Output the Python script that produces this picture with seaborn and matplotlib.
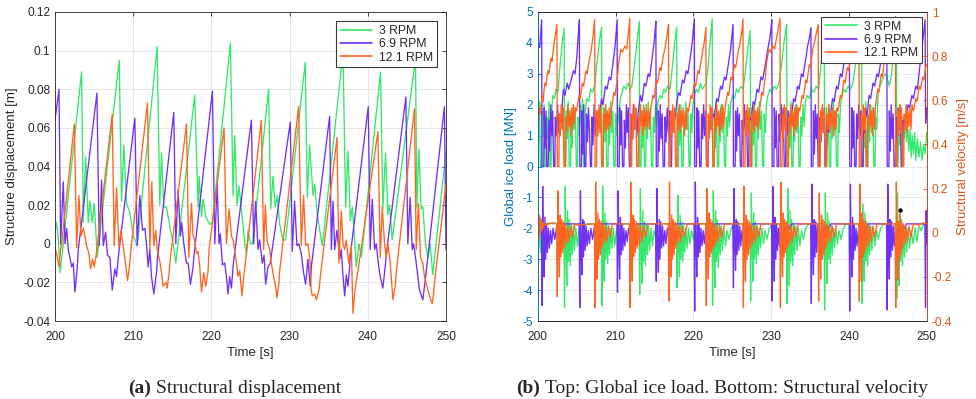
import matplotlib
matplotlib.use("Agg")
import matplotlib.pyplot as plt
from matplotlib.ticker import FuncFormatter, FixedLocator
import numpy as np
import pandas as pd
import seaborn as sns

# ---------------------------------------------------------------- data
SERIES = ["3 RPM", "6.9 RPM", "12.1 RPM"]
PALETTE = {"3 RPM": "#33e86a", "6.9 RPM": "#7030f5", "12.1 RPM": "#ff6420"}

X_TICKS = [200, 210, 220, 230, 240, 250]
DISP_TICKS = [-0.04, -0.02, 0, 0.02, 0.04, 0.06, 0.08, 0.1, 0.12]
LOAD_TICKS = [-5, -4, -3, -2, -1, 0, 1, 2, 3, 4, 5]
VEL_TICKS = [-0.4, -0.2, 0, 0.2, 0.4, 0.6, 0.8, 1]

# structure displacement [m] : (time [s], value)
DISP_3 = [
    (200.0, 0.006), (200.2, 0.011), (200.4, 0.004), (200.65, -0.015),
    (203.40, 0.089), (203.62, 0.011), (203.91, 0.045), (204.26, 0.011), (204.47, 0.022), (204.77, 0.011), (205.02, 0.021), (205.40, -0.007),
    (208.21, 0.095), (208.51, 0.022), (208.81, 0.051), (209.15, 0.021), (209.57, 0.016), (210.0, 0.004), (210.51, -0.001),
    (213.06, 0.102), (213.40, 0.020), (213.62, 0.047), (213.91, 0.019), (214.26, 0.019), (214.68, 0.009), (215.11, 0.000), (215.45, -0.010),
    (217.87, 0.077), (218.30, 0.019), (218.43, 0.035), (218.73, 0.014), (218.94, 0.023), (219.28, 0.014), (219.79, 0.010), (220.13, 0.011),
    (222.43, 0.104), (222.77, 0.025), (222.98, 0.056), (223.28, 0.020), (223.53, 0.030), (223.83, 0.018), (224.26, 0.000), (224.47, -0.005), (224.68, 0.007), (224.98, 0.000), (225.24, 0.000),
    (227.32, 0.080), (227.58, 0.018), (227.87, 0.035), (228.17, 0.019), (228.43, 0.025), (228.73, 0.010), (229.15, 0.002), (229.49, 0.002),
    (232.0, 0.094), (232.26, 0.024), (232.56, 0.051), (233.0, 0.025), (233.21, 0.031), (233.51, 0.016), (233.85, 0.007), (234.19, -0.001),
    (236.83, 0.099), (237.17, 0.019), (237.46, 0.048), (237.76, 0.012), (238.02, 0.019), (238.31, 0.002), (238.53, -0.012), (238.87, 0.000), (239.17, -0.007), (239.29, -0.003),
    (241.63, 0.089), (241.93, 0.018), (242.27, 0.047), (242.57, 0.015), (242.78, 0.020), (243.12, 0.002),
    (246.10, 0.096), (246.27, 0.019), (246.53, 0.049), (246.83, 0.018), (247.04, 0.019), (247.38, 0.000), (247.68, -0.007), (247.97, 0.000), (248.31, -0.016), (248.66, -0.003),
    (250.0, 0.048),
]
DISP_69 = [
    (200.0, 0.064), (200.51, 0.080), (200.72, 0.000), (201.06, 0.032), (201.28, 0.000), (201.49, 0.008), (201.70, -0.003), (201.91, -0.007), (202.13, -0.012), (202.34, -0.010), (202.55, -0.025), (202.85, -0.012), (202.98, -0.003),
    (205.36, 0.078), (205.66, -0.001), (205.96, 0.033), (206.17, -0.001), (206.47, 0.006), (206.72, -0.006), (207.02, -0.007), (207.32, -0.024), (207.66, -0.013), (207.87, -0.017), (208.09, -0.007), (208.21, -0.003),
    (210.21, 0.065), (210.51, -0.001), (210.85, 0.025), (211.19, 0.007), (211.49, 0.008), (211.70, 0.000), (211.91, -0.012), (212.13, -0.003), (212.34, -0.017), (212.64, -0.026), (212.98, -0.015), (213.11, -0.007),
    (215.19, 0.068), (215.45, 0.000), (215.74, 0.028), (216.04, 0.004), (216.2, 0.011), (216.47, 0.000), (216.81, -0.010), (217.02, -0.010), (217.32, -0.021), (217.66, -0.012), (217.75, -0.007),
    (220.13, 0.079), (220.43, 0.000), (220.73, 0.031), (220.98, 0.000), (221.15, 0.005), (221.41, -0.011), (221.70, -0.010), (221.92, -0.017), (222.13, -0.026), (222.34, -0.017), (222.56, -0.023), (222.77, -0.012), (222.90, -0.007),
    (225.11, 0.064), (225.41, 0.000), (225.66, 0.022), (225.96, -0.003), (226.17, 0.002), (226.51, -0.010), (226.73, -0.006), (226.94, -0.021), (227.24, -0.012), (227.53, -0.010),
    (230.09, 0.063), (230.34, -0.004), (230.64, 0.022), (230.94, -0.001), (231.19, 0.000), (231.49, -0.005), (231.79, -0.015), (232.05, -0.021), (232.34, -0.008), (232.64, -0.022), (232.78, -0.012),
    (235.12, 0.066), (235.34, -0.003), (235.55, 0.022), (235.76, -0.003), (236.06, 0.007), (236.40, -0.008), (236.61, -0.003), (236.83, -0.017), (237.04, -0.027), (237.25, -0.016), (237.46, -0.022), (237.68, -0.012), (237.76, -0.006),
    (240.06, 0.071), (240.31, -0.003), (240.57, 0.023), (240.87, -0.003), (241.08, 0.000), (241.34, -0.010), (241.59, -0.017), (241.93, -0.023), (242.27, -0.010), (242.44, -0.003),
    (244.87, 0.076), (245.12, 0.000), (245.42, 0.024), (245.68, -0.003), (245.85, 0.000), (246.10, -0.007), (246.40, -0.017), (246.61, -0.024), (247.04, -0.029), (247.25, -0.022), (247.46, -0.015),
    (249.80, 0.071), (250.0, -0.003),
]
DISP_121 = [
    (200.0, -0.002), (200.30, -0.007), (200.51, -0.012), (200.72, -0.003), (200.85, 0.000),
    (202.47, 0.062), (202.77, -0.002), (203.06, 0.025), (203.32, 0.004), (203.62, 0.008), (203.83, 0.004), (204.04, -0.001), (204.34, -0.005), (204.55, -0.013), (204.81, -0.008), (205.02, -0.012), (205.23, -0.007),
    (207.32, 0.067), (207.57, -0.001), (207.87, 0.029), (208.17, -0.002), (208.43, 0.007), (208.72, -0.001), (208.94, -0.008), (209.28, -0.019), (209.57, -0.010), (209.70, -0.003),
    (211.83, 0.073), (212.13, -0.003), (212.38, 0.032), (212.64, -0.001), (212.89, 0.007), (213.06, -0.003), (213.40, -0.009), (213.62, -0.015), (213.83, -0.022), (214.17, -0.020), (214.34, -0.023), (214.60, -0.015), (214.77, -0.007),
    (216.81, 0.062), (217.11, -0.007), (217.45, 0.021), (217.66, 0.004), (217.87, 0.002), (218.09, -0.005), (218.30, -0.004), (218.51, -0.012), (218.73, -0.025), (219.02, -0.015), (219.28, -0.022), (219.58, -0.014), (219.70, -0.003),
    (221.62, 0.060), (221.92, 0.000), (222.26, 0.018), (222.56, 0.004), (222.77, 0.002), (223.11, -0.007), (223.41, -0.017), (223.62, -0.014), (223.92, -0.027), (224.13, -0.017), (224.34, -0.010),
    (226.39, 0.064), (226.68, -0.003), (226.90, 0.020), (227.11, 0.002), (227.45, -0.003), (227.66, -0.010), (227.96, -0.017), (228.21, -0.022), (228.39, -0.028), (228.64, -0.020), (228.73, -0.014),
    (231.15, 0.071), (231.49, -0.001), (231.79, 0.025), (232.05, -0.001), (232.34, 0.000), (232.64, -0.010), (232.75, -0.024), (232.91, -0.027), (233.21, -0.026), (233.42, -0.029), (233.76, -0.024), (233.93, -0.017),
    (236.06, 0.055), (236.31, -0.010), (236.61, 0.017), (236.83, 0.000), (237.04, -0.003), (237.25, 0.002), (237.55, -0.010), (237.89, -0.001), (238.10, -0.036), (238.31, -0.026), (238.61, -0.017), (238.74, -0.014),
    (241.29, 0.058), (241.59, -0.007), (241.85, 0.019), (242.14, 0.000), (242.36, -0.007), (242.57, 0.000), (242.87, -0.010), (243.21, -0.029), (243.51, -0.022), (243.63, -0.015),
    (245.97, 0.070), (246.19, -0.003), (246.48, 0.021), (246.74, -0.007), (247.04, -0.010), (247.25, -0.017), (247.55, -0.022), (247.89, -0.027), (248.23, -0.031), (248.40, -0.026), (248.53, -0.020),
    (250.0, 0.031),
]

# global ice load [MN] : (time [s], value)
LOAD_3 = [
    (200.0, 1.9), (200.1, 0.7), (200.22, 2.1), (200.34, 0.0), (200.5, 0.0), (200.57, 1.8), (200.7, 1.0), (200.83, 2.0), (200.95, 0.0), (201.1, 0.0), (201.17, 1.6), (201.3, 0.9), (201.45, 2.1), (201.58, 0.0), (201.72, 0.0), (201.8, 1.8), (201.95, 2.3), (202.15, 2.2), (202.35, 2.5), (202.6, 2.4), (202.85, 3.2), (203.15, 4.0), (203.40, 4.47),
    (203.45, 0.0), (203.62, 0.0), (203.68, 1.8), (203.8, 0.9), (203.93, 2.1), (204.05, 0.0), (204.22, 0.0), (204.29, 1.7), (204.42, 0.6), (204.56, 2.0), (204.7, 1.2), (204.84, 1.9), (204.97, 0.0), (205.12, 0.0), (205.19, 1.6), (205.33, 1.0), (205.47, 2.0), (205.6, 1.3), (205.75, 2.2), (205.9, 0.0), (206.05, 0.0), (206.12, 1.8), (206.3, 2.2), (206.55, 2.1), (206.8, 2.5), (207.05, 2.4), (207.3, 2.6), (207.6, 3.3), (207.9, 4.0), (208.21, 4.5),
    (208.26, 0.0), (208.43, 0.0), (208.49, 1.9), (208.62, 0.8), (208.75, 2.0), (208.87, 0.0), (209.04, 0.0), (209.11, 1.6), (209.24, 0.7), (209.38, 2.1), (209.52, 1.1), (209.66, 1.8), (209.79, 0.0), (209.95, 0.0), (210.02, 1.7), (210.16, 1.0), (210.3, 2.0), (210.45, 1.4), (210.6, 2.2), (210.85, 2.4), (211.1, 2.6), (211.35, 2.5), (211.6, 2.7), (211.85, 2.5), (212.1, 2.6), (212.4, 3.2), (212.75, 4.0), (213.06, 4.7),
    (213.11, 0.0), (213.28, 0.0), (213.34, 1.8), (213.47, 0.6), (213.6, 2.0), (213.72, 0.0), (213.88, 0.0), (213.95, 1.7), (214.08, 0.9), (214.22, 2.1), (214.36, 1.2), (214.5, 1.9), (214.63, 0.0), (214.8, 0.0), (214.87, 1.6), (215.0, 1.1), (215.15, 2.0), (215.3, 1.3), (215.45, 2.1), (215.7, 2.3), (215.95, 2.2), (216.2, 2.5), (216.45, 2.4), (216.7, 2.6), (217.0, 2.5), (217.3, 3.2), (217.6, 4.0), (217.87, 4.5),
    (217.92, 0.0), (218.09, 0.0), (218.15, 1.9), (218.28, 0.7), (218.41, 2.0), (218.53, 0.0), (218.7, 0.0), (218.77, 1.6), (218.9, 1.0), (219.04, 2.1), (219.18, 1.2), (219.32, 1.8), (219.45, 0.0), (219.6, 0.0), (219.67, 1.7), (219.8, 1.1), (219.95, 2.0), (220.15, 2.3), (220.4, 2.5), (220.65, 2.4), (220.9, 2.7), (221.15, 2.5), (221.4, 2.6), (221.65, 2.7), (221.9, 3.2), (222.15, 4.0), (222.43, 4.78),
    (222.48, 0.0), (222.65, 0.0), (222.71, 1.8), (222.84, 0.6), (222.97, 2.1), (223.09, 0.0), (223.26, 0.0), (223.33, 1.7), (223.46, 0.8), (223.6, 2.0), (223.74, 1.1), (223.88, 1.9), (224.01, 0.0), (224.17, 0.0), (224.24, 1.6), (224.38, 1.0), (224.52, 2.0), (224.67, 1.3), (224.82, 2.1), (225.05, 2.3), (225.3, 2.2), (225.55, 2.5), (225.8, 2.4), (226.1, 2.6), (226.4, 2.5), (226.7, 3.1), (227.0, 3.8), (227.32, 4.4),
    (227.37, 0.0), (227.54, 0.0), (227.6, 1.9), (227.73, 0.7), (227.86, 2.0), (227.98, 0.0), (228.15, 0.0), (228.22, 1.6), (228.35, 0.9), (228.49, 2.1), (228.63, 1.2), (228.77, 1.8), (228.9, 0.0), (229.05, 0.0), (229.12, 1.7), (229.26, 1.1), (229.4, 2.0), (229.6, 2.3), (229.85, 2.5), (230.1, 2.4), (230.4, 2.6), (230.7, 2.5), (231.0, 2.7), (231.3, 3.2), (231.65, 4.0), (232.0, 4.6),
    (232.05, 0.0), (232.22, 0.0), (232.28, 1.8), (232.41, 0.6), (232.54, 2.1), (232.66, 0.0), (232.83, 0.0), (232.9, 1.7), (233.03, 0.8), (233.17, 2.0), (233.31, 1.1), (233.45, 1.9), (233.58, 0.0), (233.74, 0.0), (233.81, 1.6), (233.95, 1.0), (234.1, 2.0), (234.25, 1.3), (234.4, 2.1), (234.65, 2.3), (234.9, 2.2), (235.2, 2.5), (235.5, 2.4), (235.8, 2.6), (236.1, 2.5), (236.45, 3.4), (236.83, 4.7),
    (236.88, 0.0), (237.05, 0.0), (237.11, 1.9), (237.24, 0.7), (237.37, 2.0), (237.49, 0.0), (237.66, 0.0), (237.73, 1.6), (237.86, 0.9), (238.0, 2.1), (238.14, 1.2), (238.28, 1.8), (238.41, 0.0), (238.57, 0.0), (238.64, 1.7), (238.78, 1.1), (238.92, 2.0), (239.1, 2.3), (239.35, 2.5), (239.6, 2.4), (239.9, 2.6), (240.2, 2.5), (240.5, 2.7), (240.85, 3.3), (241.25, 4.0), (241.63, 4.6),
    (241.68, 0.0), (241.85, 0.0), (241.91, 1.8), (242.04, 0.6), (242.17, 2.1), (242.29, 0.0), (242.46, 0.0), (242.53, 1.7), (242.66, 0.8), (242.8, 2.0), (242.94, 1.1), (243.08, 1.9), (243.21, 0.0), (243.37, 0.0), (243.44, 1.6), (243.58, 1.2), (243.75, 2.3), (244.0, 2.6), (244.3, 2.8), (244.6, 3.0), (244.9, 2.9), (245.2, 2.6), (245.5, 3.0), (245.8, 3.9), (246.10, 4.7),
    (246.15, 0.0), (246.32, 0.0), (246.38, 1.8), (246.51, 0.7), (246.64, 2.0), (246.76, 0.0), (246.92, 0.0), (246.99, 1.6), (247.12, 0.9), (247.26, 1.7), (247.4, 0.8), (247.55, 1.4), (247.7, 0.5), (247.85, 1.2), (248.0, 0.3), (248.15, 1.0), (248.3, 0.4), (248.45, 1.1), (248.6, 0.2), (248.8, 0.9), (249.0, 0.3), (249.2, 0.8), (249.4, 0.2), (249.6, 0.7), (249.8, 0.4), (250.0, 1.1),
]
LOAD_69 = [
    (200.0, 3.70), (200.15, 3.95), (200.25, 3.85), (200.4, 4.35), (200.51, 4.75),
    (200.56, 0.0), (200.78, 0.0), (200.84, 1.9), (200.95, 0.6), (201.07, 1.8), (201.17, 0.0), (201.35, 0.0), (201.42, 1.5), (201.55, 0.5), (201.68, 2.0), (201.8, 1.0), (201.92, 1.8), (202.05, 0.0), (202.2, 0.0), (202.27, 1.6), (202.4, 1.0), (202.55, 2.0), (202.7, 1.1), (202.82, 1.7),
    (203.0, 1.5), (203.3, 2.5), (203.5, 2.3), (203.8, 2.7), (204.0, 2.5), (204.3, 2.8), (204.6, 3.1), (204.8, 3.0), (205.05, 3.6), (205.2, 4.2), (205.36, 4.75),
    (205.41, 0.0), (205.62, 0.0), (205.68, 1.8), (205.8, 0.4), (205.92, 2.0), (206.02, 0.0), (206.2, 0.0), (206.27, 1.7), (206.4, 0.8), (206.52, 1.9), (206.65, 1.2), (206.78, 0.0), (206.92, 0.0), (206.98, 1.6), (207.1, 0.7), (207.25, 2.0), (207.4, 1.0), (207.55, 1.8), (207.7, 1.3),
    (207.9, 1.6), (208.2, 2.2), (208.4, 2.0), (208.7, 2.6), (208.9, 2.5), (209.2, 2.9), (209.4, 2.8), (209.7, 3.4), (209.95, 3.9), (210.1, 4.4), (210.21, 4.75),
    (210.26, 0.0), (210.48, 0.0), (210.54, 1.9), (210.66, 0.7), (210.78, 1.8), (210.9, 0.0), (211.08, 0.0), (211.14, 1.5), (211.27, 0.6), (211.4, 2.0), (211.52, 1.1), (211.65, 1.9), (211.78, 0.0), (211.95, 0.0), (212.02, 1.7), (212.15, 0.9), (212.3, 2.0), (212.45, 1.2), (212.6, 1.8), (212.75, 1.0),
    (212.9, 1.7), (213.2, 2.3), (213.4, 2.1), (213.7, 2.7), (213.9, 2.6), (214.2, 3.0), (214.4, 2.9), (214.7, 3.5), (214.95, 4.0), (215.1, 4.4), (215.19, 4.7),
    (215.24, 0.0), (215.45, 0.0), (215.51, 1.8), (215.63, 0.5), (215.75, 2.0), (215.87, 0.9), (216.0, 1.7), (216.12, 0.0), (216.3, 0.0), (216.37, 1.6), (216.5, 0.8), (216.64, 1.9), (216.78, 1.1), (216.92, 1.8), (217.05, 0.0), (217.2, 0.0), (217.27, 1.5), (217.4, 1.2),
    (217.6, 1.5), (217.9, 2.1), (218.1, 2.4), (218.3, 2.3), (218.6, 2.8), (218.8, 2.7), (219.1, 3.1), (219.3, 3.0), (219.6, 3.5), (219.85, 4.0), (220.0, 4.4), (220.13, 4.78),
    (220.18, 0.0), (220.4, 0.0), (220.46, 1.9), (220.58, 0.6), (220.7, 1.8), (220.82, 0.0), (221.0, 0.0), (221.07, 1.7), (221.2, 0.9), (221.33, 2.0), (221.46, 1.0), (221.6, 1.8), (221.72, 0.0), (221.9, 0.0), (221.97, 1.6), (222.1, 1.1), (222.25, 1.9), (222.4, 1.3), (222.55, 1.7),
    (222.7, 1.6), (223.0, 2.2), (223.2, 2.1), (223.5, 2.6), (223.7, 2.5), (224.0, 2.9), (224.2, 2.8), (224.5, 3.3), (224.8, 3.8), (224.95, 4.2), (225.11, 4.6),
    (225.16, 0.0), (225.38, 0.0), (225.44, 1.8), (225.56, 0.5), (225.68, 1.9), (225.8, 1.0), (225.93, 1.7), (226.05, 0.0), (226.22, 0.0), (226.29, 1.5), (226.42, 0.7), (226.56, 2.0), (226.7, 1.2), (226.84, 1.8), (226.97, 0.0), (227.12, 0.0), (227.19, 1.6),
    (227.4, 1.5), (227.7, 2.1), (227.9, 2.0), (228.2, 2.5), (228.4, 2.4), (228.7, 2.9), (228.9, 2.8), (229.2, 3.2), (229.5, 3.7), (229.8, 4.1), (229.97, 4.4), (230.09, 4.75),
    (230.14, 0.0), (230.36, 0.0), (230.42, 1.9), (230.54, 0.6), (230.66, 1.8), (230.78, 0.0), (230.96, 0.0), (231.03, 1.7), (231.16, 0.8), (231.3, 2.0), (231.43, 1.1), (231.56, 1.9), (231.69, 0.0), (231.86, 0.0), (231.93, 1.5), (232.06, 1.0), (232.2, 1.8), (232.35, 1.2), (232.48, 1.7),
    (232.6, 1.6), (232.9, 2.2), (233.1, 2.1), (233.4, 2.6), (233.6, 2.5), (233.9, 3.0), (234.1, 2.9), (234.4, 3.4), (234.7, 3.9), (234.95, 4.2), (235.12, 4.5),
    (235.17, 0.0), (235.38, 0.0), (235.44, 1.8), (235.56, 0.4), (235.68, 2.0), (235.8, 0.9), (235.93, 1.7), (236.05, 0.0), (236.22, 0.0), (236.29, 1.6), (236.42, 0.8), (236.56, 1.9), (236.7, 1.1), (236.84, 1.8), (236.97, 0.0), (237.12, 0.0), (237.19, 1.5), (237.35, 1.1), (237.48, 1.8),
    (237.6, 1.6), (237.9, 2.2), (238.1, 2.1), (238.4, 2.6), (238.6, 2.5), (238.9, 3.0), (239.1, 2.9), (239.4, 3.4), (239.7, 3.8), (239.9, 4.2), (240.06, 4.55),
    (240.11, 0.0), (240.33, 0.0), (240.39, 1.9), (240.51, 0.6), (240.63, 1.8), (240.75, 0.0), (240.92, 0.0), (240.99, 1.7), (241.12, 0.9), (241.26, 2.0), (241.39, 1.0), (241.52, 1.8), (241.65, 0.0), (241.82, 0.0), (241.89, 1.6), (242.02, 1.1), (242.16, 1.9),
    (242.3, 1.6), (242.6, 2.3), (242.8, 2.2), (243.1, 2.7), (243.3, 2.6), (243.6, 3.0), (243.8, 2.9), (244.1, 3.4), (244.4, 3.9), (244.65, 4.2), (244.87, 4.6),
    (244.92, 0.0), (245.14, 0.0), (245.2, 1.8), (245.32, 0.5), (245.44, 2.0), (245.56, 0.9), (245.69, 1.7), (245.81, 0.0), (245.98, 0.0), (246.05, 1.6), (246.18, 0.8), (246.32, 1.9), (246.46, 1.2), (246.6, 1.8), (246.73, 0.0), (246.88, 0.0), (246.95, 1.5), (247.1, 1.2),
    (247.3, 1.5), (247.6, 2.0), (247.8, 1.9), (248.1, 2.3), (248.3, 2.2), (248.6, 2.6), (248.8, 2.5), (249.1, 3.2), (249.4, 3.9), (249.6, 4.3), (249.8, 4.75), (249.86, 1.4), (250.0, 1.9),
]
LOAD_121 = [
    (200.0, 1.8), (200.1, 1.2), (200.2, 1.9), (200.35, 1.7), (200.55, 2.3), (200.7, 2.1), (200.9, 2.7), (201.05, 2.6), (201.3, 3.1), (201.45, 3.0), (201.7, 3.5), (201.85, 3.4), (202.1, 4.0), (202.3, 4.3), (202.47, 4.6),
    (202.52, 0.0), (202.72, 0.0), (202.78, 1.7), (202.9, 1.0), (203.02, 2.0), (203.14, 1.2), (203.26, 1.9), (203.38, 0.0), (203.55, 0.0), (203.61, 1.6), (203.73, 1.1), (203.86, 2.0), (203.98, 1.3), (204.1, 1.8), (204.22, 1.0), (204.35, 1.9), (204.48, 1.2), (204.6, 2.0), (204.72, 1.4), (204.85, 1.9),
    (205.0, 1.8), (205.3, 2.3), (205.45, 2.2), (205.75, 2.7), (205.9, 2.6), (206.2, 3.1), (206.35, 3.0), (206.65, 3.5), (206.85, 3.7), (207.1, 4.2), (207.32, 4.75),
    (207.37, 0.0), (207.57, 0.0), (207.63, 1.8), (207.75, 1.0), (207.87, 2.0), (207.99, 1.1), (208.11, 1.9), (208.23, 0.0), (208.4, 0.0), (208.46, 1.7), (208.58, 1.2), (208.71, 2.0), (208.83, 1.1), (208.95, 1.8), (209.07, 1.2), (209.2, 1.9), (209.33, 1.3),
    (209.5, 1.9), (209.8, 2.4), (209.95, 2.3), (210.25, 2.9), (210.4, 3.3), (210.7, 3.8), (210.9, 3.7), (211.2, 3.9), (211.45, 3.8), (211.65, 4.3), (211.83, 4.8),
    (211.88, 0.0), (212.08, 0.0), (212.14, 1.7), (212.26, 0.9), (212.38, 2.0), (212.5, 1.2), (212.62, 1.9), (212.74, 0.0), (212.91, 0.0), (212.97, 1.6), (213.09, 1.1), (213.22, 2.0), (213.34, 1.3), (213.46, 1.8), (213.58, 1.0), (213.71, 1.9), (213.84, 1.2), (213.97, 2.0), (214.1, 1.3), (214.23, 1.8), (214.36, 1.2),
    (214.5, 1.8), (214.8, 2.3), (214.95, 2.2), (215.25, 2.8), (215.4, 2.7), (215.7, 3.2), (215.85, 3.1), (216.15, 3.6), (216.35, 3.8), (216.6, 4.2), (216.81, 4.6),
    (216.86, 0.0), (217.06, 0.0), (217.12, 1.8), (217.24, 1.0), (217.36, 2.0), (217.48, 1.1), (217.6, 1.9), (217.72, 0.0), (217.89, 0.0), (217.95, 1.7), (218.07, 1.2), (218.2, 2.0), (218.32, 1.1), (218.44, 1.8), (218.56, 1.3), (218.69, 1.9), (218.82, 1.0), (218.95, 1.8), (219.08, 1.2), (219.2, 1.9),
    (219.4, 1.8), (219.7, 2.3), (219.85, 2.2), (220.15, 2.7), (220.3, 2.6), (220.6, 3.1), (220.75, 3.0), (221.05, 3.5), (221.25, 3.8), (221.45, 4.1), (221.62, 4.5),
    (221.67, 0.0), (221.87, 0.0), (221.93, 1.7), (222.05, 0.9), (222.17, 2.0), (222.29, 1.2), (222.41, 1.9), (222.53, 0.0), (222.7, 0.0), (222.76, 1.6), (222.88, 1.1), (223.01, 2.0), (223.13, 1.3), (223.25, 1.8), (223.37, 1.0), (223.5, 1.9), (223.63, 1.2), (223.76, 2.0), (223.89, 1.3),
    (224.1, 1.9), (224.4, 2.4), (224.55, 2.3), (224.85, 2.9), (225.0, 2.8), (225.3, 3.3), (225.45, 3.2), (225.75, 3.7), (225.95, 3.9), (226.2, 4.3), (226.39, 4.78),
    (226.44, 0.0), (226.64, 0.0), (226.7, 1.8), (226.82, 1.0), (226.94, 2.0), (227.06, 1.1), (227.18, 1.9), (227.3, 0.0), (227.47, 0.0), (227.53, 1.7), (227.65, 1.2), (227.78, 2.0), (227.9, 1.1), (228.02, 1.8), (228.14, 1.3), (228.27, 1.9), (228.4, 1.2),
    (228.5, 1.8), (228.8, 2.4), (228.95, 2.3), (229.25, 2.9), (229.4, 3.3), (229.7, 3.8), (229.9, 3.7), (230.2, 3.9), (230.45, 3.8), (230.8, 4.3), (231.15, 4.8),
    (231.2, 0.0), (231.4, 0.0), (231.46, 1.7), (231.58, 0.9), (231.7, 2.0), (231.82, 1.2), (231.94, 1.9), (232.06, 0.0), (232.23, 0.0), (232.29, 1.6), (232.41, 1.1), (232.54, 2.0), (232.66, 1.3), (232.78, 1.8), (232.9, 1.0), (233.03, 1.9), (233.16, 1.2), (233.29, 2.0), (233.42, 1.3), (233.55, 1.9),
    (233.7, 1.8), (234.0, 2.3), (234.15, 2.2), (234.45, 2.8), (234.6, 2.7), (234.9, 3.3), (235.05, 3.2), (235.35, 3.8), (235.55, 4.0), (235.8, 4.3), (236.06, 4.6),
    (236.11, 0.0), (236.31, 0.0), (236.37, 1.8), (236.49, 1.0), (236.61, 2.0), (236.73, 1.1), (236.85, 1.9), (236.97, 0.0), (237.14, 0.0), (237.2, 1.7), (237.32, 1.2), (237.45, 2.0), (237.57, 1.1), (237.69, 1.8), (237.81, 1.3), (237.94, 1.9), (238.07, 1.0), (238.2, 1.8), (238.33, 1.2), (238.46, 1.9),
    (238.6, 1.8), (238.9, 2.3), (239.05, 2.2), (239.35, 2.8), (239.5, 2.7), (239.8, 3.2), (239.95, 3.1), (240.3, 3.6), (240.6, 3.9), (240.95, 4.3), (241.29, 4.7),
    (241.34, 0.0), (241.54, 0.0), (241.6, 1.7), (241.72, 0.9), (241.84, 2.0), (241.96, 1.2), (242.08, 1.9), (242.2, 0.0), (242.37, 0.0), (242.43, 1.6), (242.55, 1.1), (242.68, 2.0), (242.8, 1.3), (242.92, 1.8), (243.04, 1.0), (243.17, 1.9), (243.3, 1.2),
    (243.4, 1.9), (243.7, 2.5), (243.85, 2.4), (244.15, 3.0), (244.3, 2.9), (244.6, 3.5), (244.75, 3.4), (245.05, 3.9), (245.3, 4.1), (245.65, 4.5), (245.97, 4.85),
    (246.02, 0.0), (246.22, 0.0), (246.28, 1.8), (246.4, 1.0), (246.52, 2.0), (246.64, 1.1), (246.76, 1.9), (246.88, 0.0), (247.05, 0.0), (247.11, 1.7), (247.23, 1.2), (247.36, 2.0), (247.48, 1.1), (247.6, 1.8), (247.72, 1.3), (247.85, 1.9), (247.98, 1.2), (248.11, 2.0),
    (248.3, 1.8), (248.6, 2.2), (248.75, 2.1), (249.05, 2.6), (249.2, 2.5), (249.5, 2.9), (249.65, 2.8), (249.85, 3.2), (250.0, 3.3),
]

# structural velocity [m/s] : (time [s], value)
VEL_3 = [
    (200.0, 0.03), (200.12, -0.07), (200.24, 0.04), (200.36, -0.09), (200.5, 0.02), (200.65, -0.05), (200.8, 0.04), (201.0, 0.03), (201.3, 0.045), (202.0, 0.04), (202.8, 0.045),
    (203.37, 0.04), (203.45, -0.34), (203.54, 0.21), (203.64, -0.06), (203.74, -0.24), (203.84, 0.1), (203.95, -0.13), (204.06, 0.06), (204.18, -0.15), (204.3, 0.04), (204.43, -0.1), (204.57, 0.03), (204.72, -0.08), (204.9, 0.02), (205.1, -0.06), (205.3, 0.01), (205.55, -0.03), (205.85, 0.02), (206.2, 0.04),
    (208.18, 0.04), (208.26, -0.33), (208.35, 0.21), (208.45, -0.05), (208.55, -0.22), (208.65, 0.09), (208.76, -0.12), (208.87, 0.05), (208.99, -0.14), (209.11, 0.03), (209.24, -0.1), (209.38, 0.02), (209.53, -0.07), (209.71, 0.02), (209.91, -0.06), (210.11, 0.01), (210.36, -0.03), (210.66, 0.02), (211.0, 0.04),
    (213.03, 0.04), (213.11, -0.28), (213.2, 0.2), (213.3, -0.06), (213.4, -0.23), (213.5, 0.1), (213.61, -0.13), (213.72, 0.05), (213.84, -0.15), (213.96, 0.04), (214.09, -0.1), (214.23, 0.03), (214.38, -0.08), (214.56, 0.02), (214.76, -0.06), (214.96, 0.01), (215.21, -0.03), (215.51, 0.02), (215.85, 0.04),
    (217.84, 0.04), (217.92, -0.25), (218.01, 0.17), (218.11, -0.05), (218.21, -0.2), (218.31, 0.08), (218.42, -0.12), (218.53, 0.05), (218.65, -0.13), (218.77, 0.03), (218.9, -0.09), (219.04, 0.02), (219.19, -0.07), (219.37, 0.02), (219.57, -0.05), (219.77, 0.01), (220.02, -0.03), (220.32, 0.02), (220.65, 0.04),
    (222.4, 0.04), (222.48, -0.33), (222.57, 0.19), (222.67, -0.06), (222.77, -0.25), (222.87, 0.1), (222.98, -0.13), (223.09, 0.06), (223.21, -0.16), (223.33, 0.04), (223.46, -0.1), (223.6, 0.03), (223.75, -0.08), (223.93, 0.02), (224.13, -0.06), (224.33, 0.01), (224.58, -0.03), (224.88, 0.02), (225.2, 0.04),
    (227.29, 0.04), (227.37, -0.31), (227.46, 0.18), (227.56, -0.05), (227.66, -0.22), (227.76, 0.09), (227.87, -0.12), (227.98, 0.05), (228.1, -0.14), (228.22, 0.03), (228.35, -0.1), (228.49, 0.02), (228.64, -0.07), (228.82, 0.02), (229.02, -0.05), (229.22, 0.01), (229.47, -0.03), (229.77, 0.02), (230.1, 0.04),
    (231.97, 0.04), (232.05, -0.32), (232.14, 0.2), (232.24, -0.06), (232.34, -0.24), (232.44, 0.1), (232.55, -0.13), (232.66, 0.06), (232.78, -0.15), (232.9, 0.04), (233.03, -0.1), (233.17, 0.03), (233.32, -0.08), (233.5, 0.02), (233.7, -0.06), (233.9, 0.01), (234.15, -0.03), (234.45, 0.02), (234.8, 0.04),
    (236.8, 0.04), (236.88, -0.35), (236.97, 0.18), (237.07, -0.05), (237.17, -0.23), (237.27, 0.09), (237.38, -0.12), (237.49, 0.05), (237.61, -0.14), (237.73, 0.03), (237.86, -0.1), (238.0, 0.02), (238.15, -0.07), (238.33, 0.02), (238.53, -0.05), (238.73, 0.01), (238.98, -0.03), (239.28, 0.02), (239.6, 0.04),
    (241.6, 0.04), (241.68, -0.32), (241.77, 0.13), (241.87, -0.06), (241.97, -0.22), (242.07, 0.09), (242.18, -0.13), (242.29, 0.05), (242.41, -0.15), (242.53, 0.04), (242.66, -0.1), (242.8, 0.03), (242.95, -0.08), (243.13, 0.02), (243.33, -0.06), (243.53, 0.01), (243.78, -0.03), (244.08, 0.02), (244.4, 0.04),
    (246.07, 0.04), (246.15, -0.3), (246.24, 0.18), (246.34, -0.05), (246.44, -0.24), (246.54, 0.1), (246.65, -0.13), (246.76, 0.06), (246.88, -0.15), (247.0, 0.04), (247.13, -0.11), (247.27, 0.03), (247.42, -0.09), (247.6, 0.02), (247.8, -0.07), (248.0, 0.01), (248.25, -0.05), (248.5, 0.02), (248.75, -0.04), (249.0, 0.03), (249.3, 0.01), (249.6, 0.04), (250.0, 0.03),
]
VEL_69 = [
    (200.0, 0.03), (200.2, 0.045), (200.35, 0.035), (200.48, 0.04),
    (200.56, -0.33), (200.64, 0.21), (200.73, -0.04), (200.83, -0.2), (200.93, 0.07), (201.03, -0.12), (201.13, 0.04), (201.25, -0.09), (201.37, 0.02), (201.5, -0.07), (201.65, 0.01), (201.8, -0.05), (201.98, 0.02), (202.2, -0.03), (202.45, 0.03), (202.8, 0.02), (203.0, 0.04),
    (205.33, 0.04), (205.41, -0.34), (205.49, 0.19), (205.58, -0.05), (205.68, -0.19), (205.78, 0.06), (205.88, -0.11), (205.98, 0.05), (206.1, -0.08), (206.22, 0.03), (206.35, -0.06), (206.5, 0.01), (206.65, -0.05), (206.83, 0.02), (207.05, -0.03), (207.3, 0.03), (207.65, 0.02), (207.9, 0.04),
    (210.18, 0.04), (210.26, -0.27), (210.34, 0.19), (210.43, -0.04), (210.53, -0.21), (210.63, 0.07), (210.73, -0.1), (210.83, 0.04), (210.95, -0.08), (211.07, 0.02), (211.2, -0.06), (211.35, 0.01), (211.5, -0.04), (211.68, 0.02), (211.9, -0.03), (212.15, 0.03), (212.5, 0.02), (212.8, 0.04),
    (215.16, 0.04), (215.24, -0.22), (215.32, 0.2), (215.41, -0.05), (215.51, -0.18), (215.61, 0.06), (215.71, -0.12), (215.81, 0.05), (215.93, -0.07), (216.05, 0.03), (216.18, -0.06), (216.33, 0.01), (216.48, -0.05), (216.66, 0.02), (216.88, -0.03), (217.13, 0.03), (217.45, 0.02), (217.7, 0.04),
    (220.10, 0.04), (220.18, -0.355), (220.26, 0.23), (220.35, -0.04), (220.45, -0.2), (220.55, 0.07), (220.65, -0.11), (220.75, 0.04), (220.87, -0.09), (220.99, 0.02), (221.12, -0.06), (221.27, 0.01), (221.42, -0.05), (221.6, 0.02), (221.82, -0.03), (222.07, 0.03), (222.4, 0.02), (222.7, 0.04),
    (225.08, 0.04), (225.16, -0.25), (225.24, 0.2), (225.33, -0.05), (225.43, -0.17), (225.53, 0.06), (225.63, -0.1), (225.73, 0.05), (225.85, -0.08), (225.97, 0.03), (226.1, -0.06), (226.25, 0.01), (226.4, -0.04), (226.58, 0.02), (226.8, -0.03), (227.05, 0.03), (227.35, 0.02), (227.6, 0.04),
    (230.06, 0.04), (230.14, -0.31), (230.22, 0.21), (230.31, -0.04), (230.41, -0.22), (230.51, 0.07), (230.61, -0.12), (230.71, 0.04), (230.83, -0.08), (230.95, 0.02), (231.08, -0.06), (231.23, 0.01), (231.38, -0.05), (231.56, 0.02), (231.78, -0.03), (232.03, 0.03), (232.35, 0.02), (232.65, 0.04),
    (235.09, 0.04), (235.17, -0.32), (235.25, 0.22), (235.34, -0.05), (235.44, -0.19), (235.54, 0.06), (235.64, -0.11), (235.74, 0.05), (235.86, -0.09), (235.98, 0.03), (236.11, -0.06), (236.26, 0.01), (236.41, -0.05), (236.59, 0.02), (236.81, -0.03), (237.06, 0.03), (237.4, 0.02), (237.7, 0.04),
    (240.03, 0.04), (240.11, -0.355), (240.19, 0.22), (240.28, -0.04), (240.38, -0.2), (240.48, 0.07), (240.58, -0.12), (240.68, 0.04), (240.8, -0.08), (240.92, 0.02), (241.05, -0.06), (241.2, 0.01), (241.35, -0.05), (241.53, 0.02), (241.75, -0.03), (242.0, 0.03), (242.3, 0.02), (242.5, 0.04),
    (244.84, 0.04), (244.92, -0.35), (245.0, 0.22), (245.09, -0.05), (245.19, -0.21), (245.29, 0.06), (245.39, -0.11), (245.49, 0.05), (245.61, -0.08), (245.73, 0.03), (245.86, -0.06), (246.01, 0.01), (246.16, -0.05), (246.34, 0.02), (246.56, -0.03), (246.81, 0.03), (247.15, 0.02), (247.4, 0.04),
    (249.77, 0.04), (249.85, -0.34), (249.93, 0.1), (250.0, -0.05),
]
VEL_121 = [
    (200.0, -0.05), (200.06, 0.09), (200.12, -0.03), (200.18, 0.08), (200.24, -0.01), (200.3, 0.07), (200.36, 0.0), (200.42, 0.06), (200.5, 0.01), (200.58, 0.05), (200.68, 0.02), (200.8, 0.045), (201.0, 0.035), (201.5, 0.04), (202.0, 0.045),
    (202.44, 0.04), (202.52, -0.29), (202.6, 0.19), (202.69, -0.04), (202.79, -0.2), (202.89, 0.08), (202.99, -0.11), (203.09, 0.06), (203.2, -0.09), (203.31, 0.05), (203.43, -0.07), (203.56, 0.04), (203.7, -0.05), (203.86, 0.03), (204.04, -0.04), (204.25, 0.03), (204.5, -0.02), (204.8, 0.04), (205.0, 0.035),
    (207.29, 0.04), (207.37, -0.34), (207.45, 0.23), (207.54, -0.05), (207.64, -0.21), (207.74, 0.09), (207.84, -0.12), (207.94, 0.06), (208.05, -0.1), (208.16, 0.05), (208.28, -0.07), (208.41, 0.04), (208.55, -0.05), (208.71, 0.03), (208.89, -0.04), (209.1, 0.03), (209.35, -0.02), (209.6, 0.04),
    (211.8, 0.04), (211.88, -0.34), (211.96, 0.23), (212.05, -0.04), (212.15, -0.22), (212.25, 0.08), (212.35, -0.11), (212.45, 0.06), (212.56, -0.09), (212.67, 0.05), (212.79, -0.07), (212.92, 0.04), (213.06, -0.06), (213.22, 0.03), (213.4, -0.04), (213.61, 0.03), (213.86, -0.02), (214.2, 0.04),
    (216.78, 0.04), (216.86, -0.31), (216.94, 0.23), (217.03, -0.05), (217.13, -0.2), (217.23, 0.08), (217.33, -0.12), (217.43, 0.06), (217.54, -0.1), (217.65, 0.05), (217.77, -0.07), (217.9, 0.04), (218.04, -0.05), (218.2, 0.03), (218.38, -0.04), (218.59, 0.03), (218.84, -0.02), (219.2, 0.04),
    (221.59, 0.04), (221.67, -0.33), (221.75, 0.2), (221.84, -0.04), (221.94, -0.21), (222.04, 0.09), (222.14, -0.11), (222.24, 0.06), (222.35, -0.09), (222.46, 0.05), (222.58, -0.07), (222.71, 0.04), (222.85, -0.06), (223.01, 0.03), (223.19, -0.04), (223.4, 0.03), (223.65, -0.02), (224.0, 0.04),
    (226.36, 0.04), (226.44, -0.34), (226.52, 0.21), (226.61, -0.05), (226.71, -0.22), (226.81, 0.08), (226.91, -0.12), (227.01, 0.06), (227.12, -0.1), (227.23, 0.05), (227.35, -0.07), (227.48, 0.04), (227.62, -0.05), (227.78, 0.03), (227.96, -0.04), (228.17, 0.03), (228.42, -0.02), (228.7, 0.04),
    (231.12, 0.04), (231.2, -0.34), (231.28, 0.23), (231.37, -0.04), (231.47, -0.2), (231.57, 0.09), (231.67, -0.11), (231.77, 0.06), (231.88, -0.09), (231.99, 0.05), (232.11, -0.07), (232.24, 0.04), (232.38, -0.06), (232.54, 0.03), (232.72, -0.04), (232.93, 0.03), (233.18, -0.02), (233.5, 0.04),
    (236.03, 0.04), (236.11, -0.31), (236.19, 0.18), (236.28, -0.05), (236.38, -0.21), (236.48, 0.08), (236.58, -0.12), (236.68, 0.06), (236.79, -0.1), (236.9, 0.05), (237.02, -0.07), (237.15, 0.04), (237.29, -0.05), (237.45, 0.03), (237.63, -0.04), (237.84, 0.03), (238.09, -0.02), (238.4, 0.04),
    (241.26, 0.04), (241.34, -0.31), (241.42, 0.22), (241.51, -0.04), (241.61, -0.22), (241.71, 0.09), (241.81, -0.11), (241.91, 0.06), (242.02, -0.09), (242.13, 0.05), (242.25, -0.07), (242.38, 0.04), (242.52, -0.06), (242.68, 0.03), (242.86, -0.04), (243.07, 0.03), (243.32, -0.02), (243.6, 0.04),
    (245.94, 0.04), (246.02, -0.34), (246.1, 0.23), (246.19, -0.05), (246.29, -0.21), (246.39, 0.05), (246.48, -0.12), (246.57, 0.103), (246.67, -0.1), (246.78, 0.05), (246.9, -0.07), (247.03, 0.04), (247.17, -0.05), (247.33, 0.03), (247.51, -0.04), (247.72, 0.03), (247.97, -0.02), (248.3, 0.04), (249.0, 0.035), (249.5, 0.045), (250.0, 0.04),
]

# data tip placed on the 12.1 RPM velocity trace
DATATIP_T = 246.57

CAPTION_A = ("(a)", "Structural displacement")
CAPTION_B = ("(b)", "Top: Global ice load. Bottom: Structural velocity")


def long_frame(groups):
    parts = []
    for name, pairs in zip(SERIES, groups):
        d = pd.DataFrame(pairs, columns=["time", "value"])
        d["speed"] = name
        parts.append(d)
    return pd.concat(parts, ignore_index=True)


disp_df = long_frame([DISP_3, DISP_69, DISP_121])
load_df = long_frame([LOAD_3, LOAD_69, LOAD_121])
vel_df = long_frame([VEL_3, VEL_69, VEL_121])

# ---------------------------------------------------------------- style
sns.set_theme(style="white")
plt.rcParams["font.family"] = ["Liberation Sans", "DejaVu Sans"]
plt.rcParams["axes.linewidth"] = 0.6

AX_GRAY = "#262626"
GRID = "#e3e3e3"
LEFT_BLUE = "#0072BD"
RIGHT_ORANGE = "#D95319"
TICK_FS = 8.6
LABEL_FS = 9.5
LW = 0.95

fmt = FuncFormatter(lambda v, p: f"{round(v, 3):g}")

fig = plt.figure(figsize=(9.76, 3.99), dpi=100)
ax_a = fig.add_axes([55 / 976, 1 - 321 / 399, 391 / 976, 309 / 399])
ax_b = fig.add_axes([537.7 / 976, 1 - 321 / 399, 389 / 976, 309 / 399])


def style_axes(ax):
    ax.set_facecolor("white")
    ax.set_axisbelow(True)
    ax.grid(True, color=GRID, linewidth=0.6)
    ax.tick_params(direction="in", length=3, width=0.6, labelsize=TICK_FS,
                   colors=AX_GRAY, top=True, right=True)
    ax.tick_params(axis="x", pad=7)
    for s in ax.spines.values():
        s.set_color(AX_GRAY)
        s.set_linewidth(0.6)
    ax.set_xlim(200, 250)
    ax.xaxis.set_major_locator(FixedLocator(X_TICKS))
    ax.xaxis.set_major_formatter(fmt)
    ax.set_xlabel("Time [s]", fontsize=LABEL_FS, color=AX_GRAY, labelpad=3)


def add_legend(ax, pad):
    h, l = ax.get_legend_handles_labels()
    leg = ax.legend(h, l, loc="upper right", fontsize=8.8, frameon=True,
                    fancybox=False, edgecolor="#3a3a3a", framealpha=1,
                    handlelength=2.6, handletextpad=0.6, labelspacing=0.12,
                    borderpad=0.3, borderaxespad=pad)
    leg.get_frame().set_linewidth(0.8)
    for line in leg.get_lines():
        line.set_linewidth(1.2)
    leg.set_zorder(10)


# ---------------------------------------------------------------- (a) displacement
sns.lineplot(data=disp_df, x="time", y="value", hue="speed", hue_order=SERIES,
             palette=PALETTE, estimator=None, sort=False, linewidth=LW, ax=ax_a)
style_axes(ax_a)
ax_a.set_ylim(-0.04, 0.12)
ax_a.yaxis.set_major_locator(FixedLocator(DISP_TICKS))
ax_a.yaxis.set_major_formatter(fmt)
ax_a.set_ylabel("Structure displacement [m]", fontsize=LABEL_FS, color=AX_GRAY, labelpad=4)
add_legend(ax_a, 0.75)

# ---------------------------------------------------------------- (b) load + velocity
sns.lineplot(data=load_df, x="time", y="value", hue="speed", hue_order=SERIES,
             palette=PALETTE, estimator=None, sort=False, linewidth=LW, ax=ax_b,
             legend=False)
style_axes(ax_b)
ax_b.tick_params(right=False)
ax_b.set_ylim(-5, 5)
ax_b.yaxis.set_major_locator(FixedLocator(LOAD_TICKS))
ax_b.yaxis.set_major_formatter(fmt)
ax_b.tick_params(axis="y", colors=LEFT_BLUE)
ax_b.spines["left"].set_color(LEFT_BLUE)
ax_b.set_ylabel("Global ice load [MN]", fontsize=LABEL_FS, color=LEFT_BLUE, labelpad=4)

ax_v = ax_b.twinx()
sns.lineplot(data=vel_df, x="time", y="value", hue="speed", hue_order=SERIES,
             palette=PALETTE, estimator=None, sort=False, linewidth=LW, ax=ax_v)
ax_v.set_ylim(-0.4, 1.0)
ax_v.yaxis.set_major_locator(FixedLocator(VEL_TICKS))
ax_v.yaxis.set_major_formatter(fmt)
ax_v.tick_params(axis="y", direction="in", length=3, width=0.6, labelsize=TICK_FS,
                 colors=RIGHT_ORANGE)
for side, s in ax_v.spines.items():
    s.set_linewidth(0.6)
    s.set_color(RIGHT_ORANGE if side == "right" else AX_GRAY)
ax_v.spines["left"].set_color(LEFT_BLUE)
ax_v.set_ylabel("Structural velocity [m/s]", fontsize=LABEL_FS, color=RIGHT_ORANGE, labelpad=4)

tip_v = dict(VEL_121)[DATATIP_T]
ax_v.scatter([DATATIP_T], [tip_v], s=14, color="black", zorder=6,
             edgecolor="white", linewidth=0.5)
add_legend(ax_v, 0.4)

# ---------------------------------------------------------------- captions
def caption(x_px, bold, rest, gap_px):
    t = fig.text(x_px / 976, 0.015, bold, fontsize=14, fontweight="bold",
                 family=["Liberation Serif", "DejaVu Serif"], ha="left", va="baseline")
    fig.canvas.draw()
    bb = t.get_window_extent()
    fig.text((bb.x1 + gap_px) / 976, 0.015, rest, fontsize=14,
             family=["Liberation Serif", "DejaVu Serif"], ha="left", va="baseline")


caption(128, *CAPTION_A, 5)
caption(516, *CAPTION_B, 5)

fig.savefig("out.png", dpi=100)
